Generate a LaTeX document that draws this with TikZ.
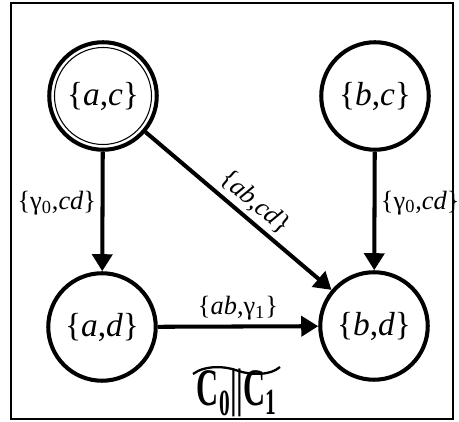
\documentclass[tikz,border=0pt]{standalone}
\usepackage{fontspec}
\setmainfont{Liberation Serif}
\usetikzlibrary{arrows.meta,positioning}

\begin{document}
\begin{tikzpicture}[
    st/.style={draw,circle,minimum size=2.15cm,inner sep=0pt,line width=2.3pt,font=\fontsize{19}{22}\selectfont},
    lab/.style={font=\fontsize{15}{17}\selectfont,inner sep=2.5pt},
    >={Triangle[length=0.34cm,width=0.4cm]},
    tr/.style={->,line width=2.3pt}
]
\useasboundingbox (0,0) rectangle (9.18,-8.44);
\draw[line width=0.8pt] (0.22,-0.06) rectangle (9.06,-8.38);

\node[st] (ac) at (2.06,-1.92) {\{\textit{a},\textit{c}\}};
\draw[line width=0.6pt] (ac) circle (0.97cm);
\node[st] (bc) at (7.5,-1.92) {\{\textit{b},\textit{c}\}};
\node[st] (ad) at (2.04,-6.54) {\{\textit{a},\textit{d}\}};
\node[st] (bd) at (7.48,-6.52) {\{\textit{b},\textit{d}\}};

\draw[tr] (ac) -- node[lab,left,pos=0.43] {\{γ\textsubscript{0},\textit{cd}\}} (ad);
\draw[tr] (bc) -- node[lab,right,pos=0.43] {\{γ\textsubscript{0},\textit{cd}\}} (bd);
\draw[tr] (ac) -- node[lab,above,sloped,pos=0.53] {\{\textit{ab},\textit{cd}\}} (bd);
\draw[tr] (ad) -- node[lab,above] {\{\textit{ab},γ\textsubscript{1}\}} (bd);

\node[font=\fontsize{30}{32}\selectfont\bfseries,xscale=0.58,inner sep=0pt] (title) at (4.74,-7.86) {C\textsubscript{0}||C\textsubscript{1}};
\draw[line width=1.3pt] (3.86,-7.48) .. controls (4.1,-7.3) and (4.5,-7.32) .. (4.74,-7.41) .. controls (5.0,-7.5) and (5.4,-7.52) .. (5.6,-7.34);
\end{tikzpicture}
\end{document}
